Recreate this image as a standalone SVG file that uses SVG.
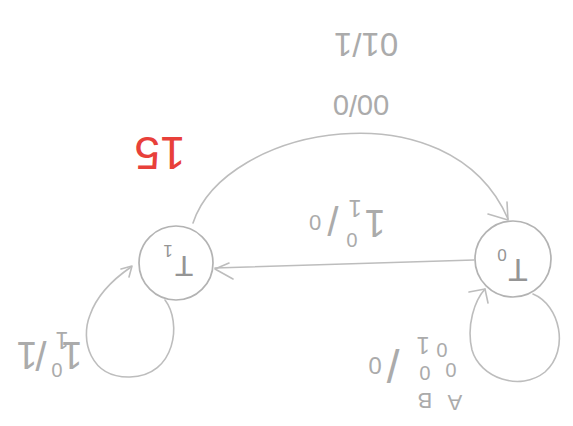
<svg xmlns="http://www.w3.org/2000/svg" width="573" height="426" viewBox="0 0 573 426">
  <style>
    .pen { fill: none; stroke: #bdbdbd; stroke-width: 1.6; stroke-linecap: round; stroke-linejoin: round; }
    .ring { fill: none; stroke: #b3b3b3; stroke-width: 1.7; }
    .lbl { font-family: "Liberation Sans", "DejaVu Sans", sans-serif; fill: #ababab; text-anchor: middle; dominant-baseline: central; }
    .st { font-family: "Liberation Sans", "DejaVu Sans", sans-serif; fill: #959595; text-anchor: middle; dominant-baseline: central; }
    .note { font-family: "Liberation Sans", "DejaVu Sans", sans-serif; fill: #e8403a; text-anchor: middle; dominant-baseline: central; }
  </style>
  <rect width="573" height="426" fill="#ffffff"/>

  <!-- sheet is drawn upside down: every text is turned 180 degrees about its own centre -->
  <text class="note" x="160" y="153" font-size="46" transform="rotate(180 160 153)">15</text>

  <g id="node-T1">
    <circle class="ring" cx="176" cy="263" r="37"/>
    <text class="st" x="184" y="266" font-size="30" transform="rotate(180 184 266)">T</text>
    <text class="st" x="168" y="250" font-size="17" transform="rotate(180 168 250)">1</text>
  </g>

  <g id="node-T0">
    <circle class="ring" cx="513" cy="259" r="38"/>
    <text class="st" x="518" y="270" font-size="32" transform="rotate(180 518 270)">T</text>
    <text class="st" x="502" y="254" font-size="17" transform="rotate(180 502 254)">0</text>
  </g>

  <g id="connectors">
    <!-- upper arc T1 -> T0 -->
    <path class="pen" d="M193 223 C225 125 450 85 508 219"/>
    <path class="pen" d="M488 214 L508 220 L507 202"/>
    <!-- straight edge T0 -> T1 -->
    <path class="pen" d="M474 260 L215 268"/>
    <path class="pen" d="M233 279 L215 269 L229 263"/>
    <!-- self loop on T1 -->
    <path class="pen" d="M165 300 C182 322 176 376 130 377 C90 378 80 340 90 315 C97 295 115 278 131 267"/>
    <path class="pen" d="M121 269 L132 266 L129 277"/>
    <!-- self loop on T0 -->
    <path class="pen" d="M533 294 C560 305 570 350 545 372 C520 392 480 378 472 350 C466 325 475 300 485 289"/>
    <path class="pen" d="M469 292 L485 289 L488 303"/>
  </g>

  <g id="labels">
    <!-- arc labels -->
    <text class="lbl" x="366" y="44" font-size="33" transform="rotate(180 366 44)">01/1</text>
    <text class="lbl" x="361" y="105" font-size="29" transform="rotate(180 361 105)">00/0</text>

    <!-- straight edge label -->
    <text class="lbl" x="315" y="222" font-size="22" transform="rotate(180 315 222)">0</text>
    <text class="lbl" x="333" y="220" font-size="40" transform="rotate(180 333 220)">/</text>
    <text class="lbl" x="355" y="208" font-size="24" transform="rotate(180 355 208)">1</text>
    <text class="lbl" x="352" y="240" font-size="20" transform="rotate(180 352 240)">0</text>
    <text class="lbl" x="375" y="223" font-size="38" transform="rotate(180 375 223)">1</text>

    <!-- T1 loop label -->
    <text class="lbl" x="27" y="355" font-size="38" transform="rotate(180 27 355)">1</text>
    <text class="lbl" x="41" y="355" font-size="40" transform="rotate(180 41 355)">/</text>
    <text class="lbl" x="62" y="340" font-size="24" transform="rotate(180 62 340)">1</text>
    <text class="lbl" x="57" y="370" font-size="20" transform="rotate(180 57 370)">0</text>
    <text class="lbl" x="72" y="355" font-size="38" transform="rotate(180 72 355)">1</text>

    <!-- T0 loop label -->
    <text class="lbl" x="375" y="365" font-size="24" transform="rotate(180 375 365)">0</text>
    <text class="lbl" x="393" y="365" font-size="46" transform="rotate(180 393 365)">/</text>
    <text class="lbl" x="423" y="345" font-size="24" transform="rotate(180 423 345)">1</text>
    <text class="lbl" x="442" y="350" font-size="20" transform="rotate(180 442 350)">0</text>
    <text class="lbl" x="425" y="373" font-size="20" transform="rotate(180 425 373)">0</text>
    <text class="lbl" x="451" y="370" font-size="20" transform="rotate(180 451 370)">0</text>
    <text class="lbl" x="425" y="400" font-size="22" transform="rotate(180 425 400)">B</text>
    <text class="lbl" x="455" y="402" font-size="22" transform="rotate(180 455 402)">A</text>
  </g>
</svg>
